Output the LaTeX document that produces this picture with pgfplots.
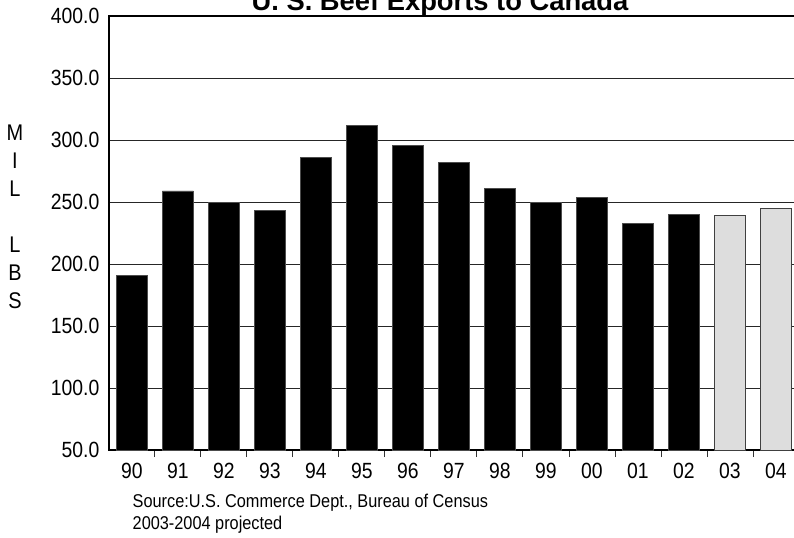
\documentclass[border=0pt]{standalone}
\usepackage{fontspec}
\setmainfont{Liberation Sans}[FakeStretch=0.88]
\newfontfamily\titlefont{Liberation Sans}
\usepackage{pgfplots}
\pgfplotsset{compat=1.18}
\definecolor{projgray}{HTML}{DDDDDD}

\begin{document}
\begin{tikzpicture}
\begin{axis}[
  name=ax,
  scale only axis,
  width=517.5pt, height=325.5pt,
  xmin=-0.5, xmax=14.5,
  ymin=50, ymax=400,
  ytick={50,100,...,400},
  xtick={0,...,14},
  xticklabels={90,91,92,93,94,95,96,97,98,99,00,01,02,03,04},
  minor xtick={0.5,1.5,...,13.5},
  major tick length=0pt,
  minor tick length=5.25pt,
  tick align=outside,
  xtick pos=left, ytick pos=left,
  ymajorgrids,
  grid style={black!85, line width=0.75pt},
  axis line style={line width=1.2pt},
  minor tick style={line width=0.75pt, black!80},
  /pgf/number format/assume math mode=true,
  yticklabel style={xshift=-3.75pt,
    /pgf/number format/fixed,
    /pgf/number format/fixed zerofill,
    /pgf/number format/precision=1},
  xticklabel style={yshift=-6pt},
  ticklabel style={font=\fontsize{16.5pt}{18pt}\selectfont},
]
% 1990-2002 actual
\addplot[ybar, bar width=23.25pt, bar shift=0pt, fill=black, draw=black!70]
  coordinates {(0,191) (1,259) (2,250) (3,243.5) (4,285.7) (5,312) (6,295.7)
               (7,282) (8,261) (9,250) (10,253.8) (11,232.8) (12,240.3)};
% 2003-2004 projected
\addplot[ybar, bar width=23.25pt, bar shift=0pt, fill=projgray, draw=black!75, line width=0.75pt]
  coordinates {(13,239.5) (14,244.4)};
\end{axis}

\node[anchor=base, font=\fontsize{20.5pt}{24pt}\selectfont\titlefont\bfseries]
  at ([xshift=248.25pt, yshift=4.1pt]ax.north west) {U. S. Beef Exports to Canada};
\node[align=center, font=\fontsize{17pt}{21pt}\selectfont]
  at ([xshift=-70.5pt, yshift=174.75pt]ax.south west) {M\\I\\L\\[21pt]L\\B\\S};
\node[anchor=base west, font=\fontsize{13.9pt}{16pt}\selectfont]
  at ([xshift=14.25pt, yshift=-42.75pt]ax.south west) {Source:U.S. Commerce Dept., Bureau of Census};
\node[anchor=base west, font=\fontsize{13.9pt}{16pt}\selectfont]
  at ([xshift=14.25pt, yshift=-59.25pt]ax.south west) {2003-2004 projected};

\pgfresetboundingbox
\path[use as bounding box] ([xshift=-81.75pt, yshift=-65.25pt]ax.south west)
  rectangle ([xshift=513.75pt, yshift=337.5pt]ax.south west);
\end{tikzpicture}
\end{document}
